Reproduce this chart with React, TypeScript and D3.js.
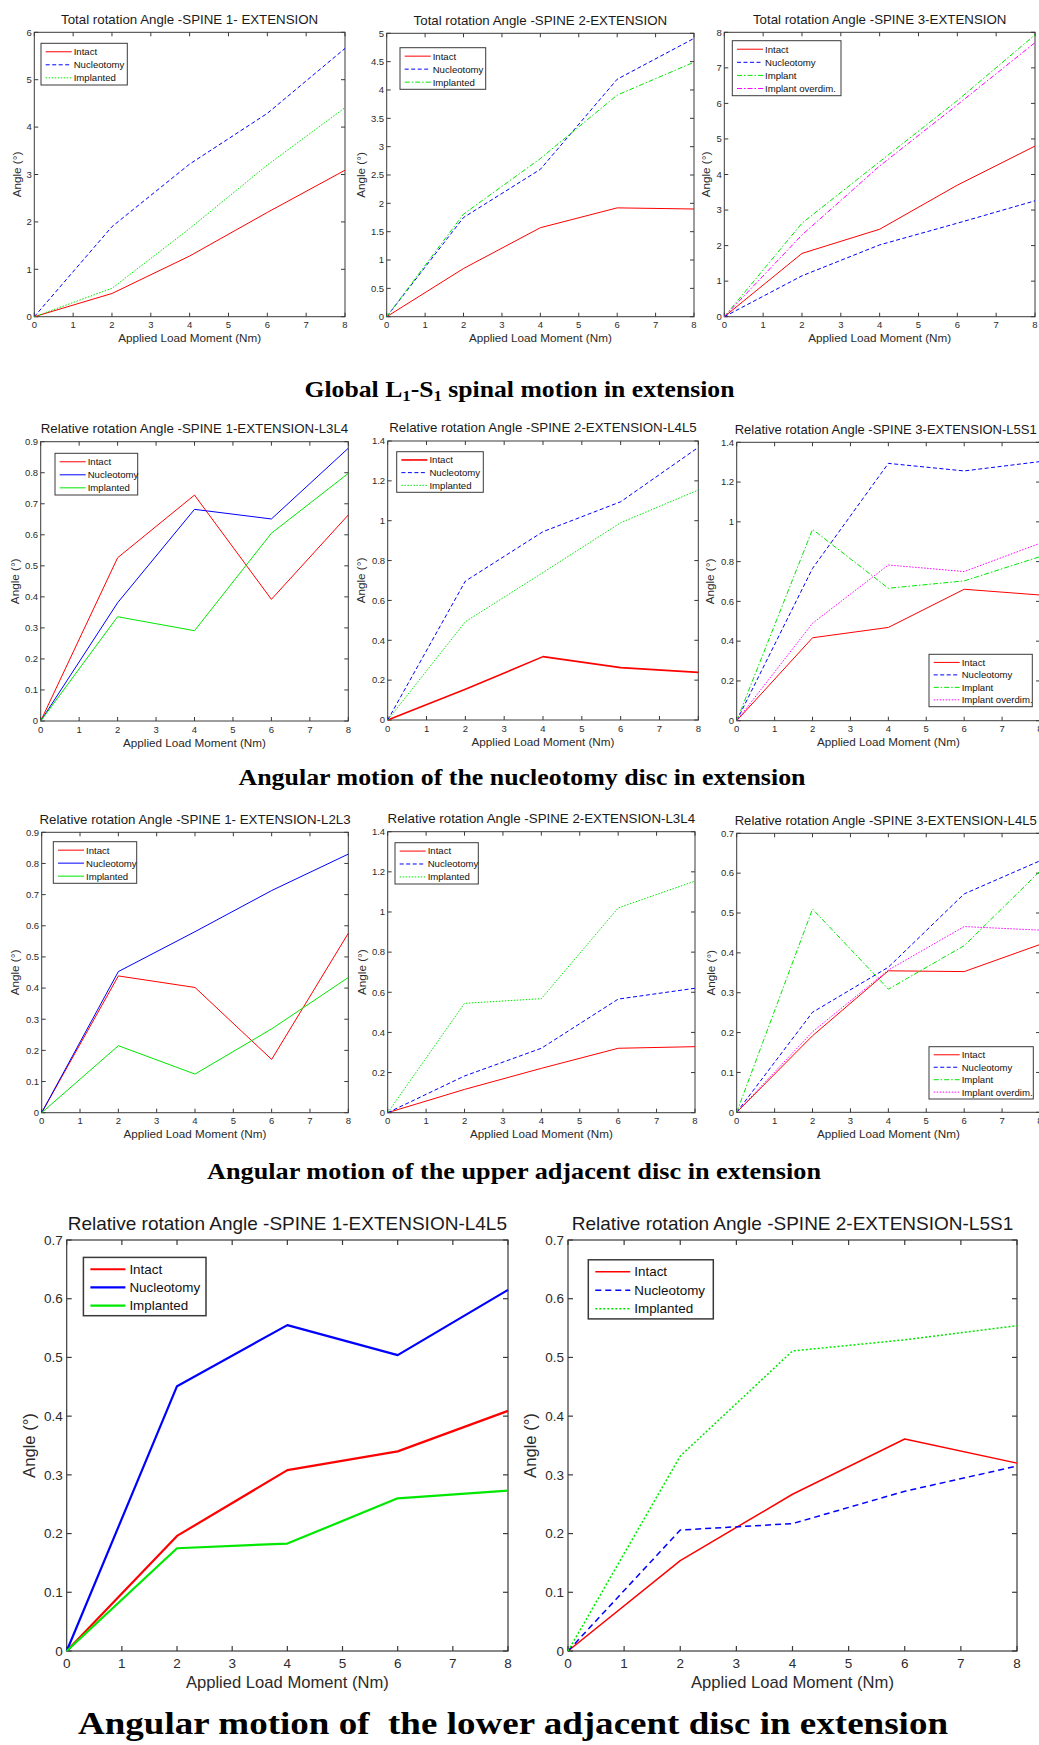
import React from 'react';
import * as d3 from 'd3';

// ---------------- DATA ----------------
const loadMoment = [0, 2, 4, 6, 8];
const xTicks = [0, 1, 2, 3, 4, 5, 6, 7, 8];

const legendThree = ['Intact', 'Nucleotomy', 'Implanted'];
const legendFour = ['Intact', 'Nucleotomy', 'Implant', 'Implant overdim.'];

const yTicks0to6 = [0, 1, 2, 3, 4, 5, 6];
const yTicks0to5 = [0, 0.5, 1, 1.5, 2, 2.5, 3, 3.5, 4, 4.5, 5];
const yTicks0to8 = [0, 1, 2, 3, 4, 5, 6, 7, 8];
const yTicks0to09 = [0, 0.1, 0.2, 0.3, 0.4, 0.5, 0.6, 0.7, 0.8, 0.9];
const yTicks0to14 = [0, 0.2, 0.4, 0.6, 0.8, 1, 1.2, 1.4];
const yTicks0to07 = [0, 0.1, 0.2, 0.3, 0.4, 0.5, 0.6, 0.7];

const panelTitles = [
  'Total rotation Angle -SPINE 1- EXTENSION',
  'Total rotation Angle -SPINE 2-EXTENSION',
  'Total rotation Angle -SPINE 3-EXTENSION',
  'Relative rotation Angle -SPINE 1-EXTENSION-L3L4',
  'Relative rotation Angle -SPINE 2-EXTENSION-L4L5',
  'Relative rotation Angle -SPINE 3-EXTENSION-L5S1',
  'Relative rotation Angle -SPINE 1- EXTENSION-L2L3',
  'Relative rotation Angle -SPINE 2-EXTENSION-L3L4',
  'Relative rotation Angle -SPINE 3-EXTENSION-L4L5',
  'Relative rotation Angle -SPINE 1-EXTENSION-L4L5',
  'Relative rotation Angle -SPINE 2-EXTENSION-L5S1',
];

// Global L1-S1 (total rotation)
const totalS1Intact = [0, 0.49, 1.28, 2.2, 3.09];
const totalS1Nucleotomy = [0, 1.9, 3.22, 4.29, 5.66];
const totalS1Implanted = [0, 0.6, 1.86, 3.2, 4.41];

const totalS2Intact = [0, 0.85, 1.57, 1.92, 1.9];
const totalS2Nucleotomy = [0, 1.75, 2.6, 4.19, 4.91];
const totalS2Implanted = [0, 1.81, 2.79, 3.91, 4.49];

const totalS3Intact = [0, 1.78, 2.46, 3.7, 4.8];
const totalS3Nucleotomy = [0, 1.15, 2.02, 2.63, 3.26];
const totalS3Implant = [0, 2.63, 4.36, 6.08, 7.93];
const totalS3Overdim = [0, 2.3, 4.24, 5.96, 7.71];

// Nucleotomy disc
const nucS1L3L4Intact = [0, 0.526, 0.728, 0.392, 0.664];
const nucS1L3L4Nucleotomy = [0, 0.381, 0.682, 0.651, 0.879];
const nucS1L3L4Implanted = [0, 0.336, 0.291, 0.605, 0.798];

const nucS2L4L5Intact = [0, 0.154, 0.318, 0.263, 0.239];
const nucS2L4L5Nucleotomy = [0, 0.697, 0.945, 1.095, 1.368];
const nucS2L4L5Implanted = [0, 0.493, 0.74, 0.99, 1.154];

const nucS3L5S1Intact = [0, 0.417, 0.469, 0.661, 0.632];
const nucS3L5S1Nucleotomy = [0, 0.766, 1.294, 1.256, 1.303];
const nucS3L5S1Implant = [0, 0.962, 0.666, 0.703, 0.825];
const nucS3L5S1Overdim = [0, 0.49, 0.783, 0.75, 0.892];

// Upper adjacent disc
const upS1L2L3Intact = [0, 0.439, 0.402, 0.171, 0.576];
const upS1L2L3Nucleotomy = [0, 0.453, 0.581, 0.713, 0.83];
const upS1L2L3Implanted = [0, 0.215, 0.124, 0.269, 0.434];

const upS2L3L4Intact = [0, 0.116, 0.221, 0.321, 0.329];
const upS2L3L4Nucleotomy = [0, 0.183, 0.321, 0.566, 0.62];
const upS2L3L4Implanted = [0, 0.545, 0.568, 1.02, 1.154];

const upS3L4L5Intact = [0, 0.192, 0.355, 0.353, 0.421];
const upS3L4L5Nucleotomy = [0, 0.251, 0.364, 0.548, 0.631];
const upS3L4L5Implant = [0, 0.51, 0.309, 0.418, 0.605];
const upS3L4L5Overdim = [0, 0.202, 0.357, 0.466, 0.457];

// Lower adjacent disc
const lowS1L4L5Intact = [0, 0.196, 0.308, 0.34, 0.409];
const lowS1L4L5Nucleotomy = [0, 0.451, 0.555, 0.504, 0.615];
const lowS1L4L5Implanted = [0, 0.175, 0.183, 0.26, 0.273];

const lowS2L5S1Intact = [0, 0.154, 0.267, 0.361, 0.32];
const lowS2L5S1Nucleotomy = [0, 0.206, 0.217, 0.272, 0.315];
const lowS2L5S1Implanted = [0, 0.332, 0.511, 0.53, 0.554];

// ---------------- STYLE ----------------
const RED = '#ff0000';
const BLUE = '#0000ff';
const GREEN = '#00e800';
const MAGENTA = '#ff00ff';
const SOLID = '';
const DASHED = '4,2.5';
const DOTTED = '1.5,1.5';
const DASHDOT = '5,2,1.5,2';

type Series = { values: number[]; color: string; dash: string; width: number };
type PanelCfg = {
  title: string;
  l: number; t: number; r: number; b: number;
  yMax: number; yTicks: number[];
  series: Series[];
  legendLabels: string[];
  lg: [number, number, number, number];
  big?: boolean;
  ylabOff: number;
  titleFit?: number;
};

const S = (values: number[], color: string, dash: string, width = 1): Series => ({ values, color, dash, width });

const panels: PanelCfg[] = [
  {
    title: panelTitles[0], l: 34.3, t: 32.3, r: 345, b: 316.7, yMax: 6, yTicks: yTicks0to6,
    series: [S(totalS1Intact, RED, SOLID), S(totalS1Nucleotomy, BLUE, DASHED), S(totalS1Implanted, GREEN, DOTTED)],
    legendLabels: legendThree, lg: [41, 43.3, 127.3, 85], ylabOff: 17.6,
  },
  {
    title: panelTitles[1], l: 386.7, t: 33.3, r: 694, b: 316.7, yMax: 5, yTicks: yTicks0to5,
    series: [S(totalS2Intact, RED, SOLID), S(totalS2Nucleotomy, BLUE, DASHED), S(totalS2Implanted, GREEN, DASHDOT)],
    legendLabels: legendThree, lg: [400, 47.7, 485.7, 89.3], ylabOff: 26,
  },
  {
    title: panelTitles[2], l: 724.3, t: 32.3, r: 1035, b: 316.7, yMax: 8, yTicks: yTicks0to8,
    series: [S(totalS3Intact, RED, SOLID), S(totalS3Nucleotomy, BLUE, DASHED), S(totalS3Implant, GREEN, DASHDOT), S(totalS3Overdim, MAGENTA, DASHDOT)],
    legendLabels: legendFour, lg: [732.3, 40.7, 841, 95.7], ylabOff: 18,
  },
  {
    title: panelTitles[3], l: 40.7, t: 441.7, r: 348.3, b: 721, yMax: 0.9, yTicks: yTicks0to09,
    series: [S(nucS1L3L4Intact, RED, SOLID), S(nucS1L3L4Nucleotomy, BLUE, SOLID), S(nucS1L3L4Implanted, GREEN, SOLID)],
    legendLabels: legendThree, lg: [55, 453.3, 137.7, 495], ylabOff: 25.7,
  },
  {
    title: panelTitles[4], l: 387.7, t: 441, r: 698.3, b: 720, yMax: 1.4, yTicks: yTicks0to14,
    series: [S(nucS2L4L5Intact, RED, SOLID, 1.6), S(nucS2L4L5Nucleotomy, BLUE, DASHED), S(nucS2L4L5Implanted, GREEN, DOTTED)],
    legendLabels: legendThree, lg: [396.7, 451.7, 483.3, 492.3], ylabOff: 27,
  },
  {
    title: panelTitles[5], l: 736.7, t: 442.3, r: 1040, b: 720.7, yMax: 1.4, yTicks: yTicks0to14,
    series: [S(nucS3L5S1Intact, RED, SOLID), S(nucS3L5S1Nucleotomy, BLUE, DASHED), S(nucS3L5S1Implant, GREEN, DASHDOT), S(nucS3L5S1Overdim, MAGENTA, DOTTED)],
    legendLabels: legendFour, lg: [929, 654.3, 1032.3, 706.7], ylabOff: 26.7, titleFit: 302,
  },
  {
    title: panelTitles[6], l: 41.7, t: 832.3, r: 348.3, b: 1112.7, yMax: 0.9, yTicks: yTicks0to09,
    series: [S(upS1L2L3Intact, RED, SOLID), S(upS1L2L3Nucleotomy, BLUE, SOLID), S(upS1L2L3Implanted, GREEN, SOLID)],
    legendLabels: legendThree, lg: [53.3, 841.7, 136.7, 883.3], ylabOff: 26.7,
  },
  {
    title: panelTitles[7], l: 387.7, t: 831.7, r: 695, b: 1112.7, yMax: 1.4, yTicks: yTicks0to14,
    series: [S(upS2L3L4Intact, RED, SOLID), S(upS2L3L4Nucleotomy, BLUE, DASHED), S(upS2L3L4Implanted, GREEN, DOTTED)],
    legendLabels: legendThree, lg: [395, 842.7, 478.3, 884], ylabOff: 26,
  },
  {
    title: panelTitles[8], l: 736.7, t: 833.3, r: 1040, b: 1112.3, yMax: 0.7, yTicks: yTicks0to07,
    series: [S(upS3L4L5Intact, RED, SOLID), S(upS3L4L5Nucleotomy, BLUE, DASHED), S(upS3L4L5Implant, GREEN, DASHDOT), S(upS3L4L5Overdim, MAGENTA, DOTTED)],
    legendLabels: legendFour, lg: [929, 1046.7, 1033.3, 1099], ylabOff: 26, titleFit: 302,
  },
  {
    title: panelTitles[9], l: 66.7, t: 1240, r: 508, b: 1651, yMax: 0.7, yTicks: yTicks0to07,
    series: [S(lowS1L4L5Intact, RED, SOLID, 2.2), S(lowS1L4L5Nucleotomy, BLUE, SOLID, 2.2), S(lowS1L4L5Implanted, GREEN, SOLID, 2.2)],
    legendLabels: legendThree, lg: [83.4, 1257.4, 206, 1315.7], big: true, ylabOff: 38,
  },
  {
    title: panelTitles[10], l: 568, t: 1240, r: 1017, b: 1651, yMax: 0.7, yTicks: yTicks0to07,
    series: [S(lowS2L5S1Intact, RED, SOLID, 1.5), S(lowS2L5S1Nucleotomy, BLUE, '6,4', 1.5), S(lowS2L5S1Implanted, GREEN, '2,2', 1.5)],
    legendLabels: legendThree, lg: [588.3, 1259.8, 713.3, 1318.9], big: true, ylabOff: 38,
  },
];

const FONT = '"Liberation Sans", Arial, Helvetica, sans-serif';
const SERIF = '"Liberation Serif", "Times New Roman", serif';
const AXIS = '#3a3a3a';
const TEXT = '#2b2b2b';

function Panel({ cfg }: { cfg: PanelCfg }) {
  const big = !!cfg.big;
  const fTick = big ? 13.5 : 9.5;
  const fLab = big ? 16.6 : 11.7;
  const fTitle = big ? 19 : 13.3;
  const fLeg = big ? 13.4 : 9.6;
  const tickLen = big ? 5 : 4;
  const x = d3.scaleLinear().domain([0, 8]).range([cfg.l, cfg.r]);
  const y = d3.scaleLinear().domain([0, cfg.yMax]).range([cfg.b, cfg.t]);
  const line = d3
    .line<number>()
    .x((_, i) => x(loadMoment[i]))
    .y((d) => y(d));
  const [lx1, ly1, lx2, ly2] = cfg.lg;
  const n = cfg.legendLabels.length;
  const sp = (ly2 - ly1) / (n + 0.2);
  const sw = big ? 1.2 : 1;
  const titleX = cfg.titleFit ? cfg.l - 2 + cfg.titleFit / 2 : (cfg.l + cfg.r) / 2;
  return (
    <g>
      <text x={titleX} y={cfg.t - (big ? 17 : 13.3)} dy="0.35em" textAnchor="middle"
        fontFamily={FONT} fontSize={fTitle} fill="#1a1a1a"
        textLength={cfg.titleFit} lengthAdjust={cfg.titleFit ? 'spacingAndGlyphs' : undefined}>{cfg.title}</text>
      <rect x={cfg.l} y={cfg.t} width={cfg.r - cfg.l} height={cfg.b - cfg.t} fill="none" stroke={AXIS} strokeWidth={sw} />
      {xTicks.map((v) => (
        <g key={'x' + v}>
          <line x1={x(v)} x2={x(v)} y1={cfg.b} y2={cfg.b - tickLen} stroke={AXIS} strokeWidth={sw} />
          <line x1={x(v)} x2={x(v)} y1={cfg.t} y2={cfg.t + tickLen} stroke={AXIS} strokeWidth={sw} />
          <text x={x(v)} y={cfg.b + (big ? 12 : 8.3)} dy="0.35em" textAnchor="middle" fontFamily={FONT} fontSize={fTick} fill={TEXT}>{String(v)}</text>
        </g>
      ))}
      {cfg.yTicks.map((v) => (
        <g key={'y' + v}>
          <line x1={cfg.l} x2={cfg.l + tickLen} y1={y(v)} y2={y(v)} stroke={AXIS} strokeWidth={sw} />
          <line x1={cfg.r} x2={cfg.r - tickLen} y1={y(v)} y2={y(v)} stroke={AXIS} strokeWidth={sw} />
          <text x={cfg.l - (big ? 4 : 2.6)} y={y(v)} dy="0.35em" textAnchor="end" fontFamily={FONT} fontSize={fTick} fill={TEXT}>{String(v)}</text>
        </g>
      ))}
      <text x={(cfg.l + cfg.r) / 2} y={cfg.b + (big ? 31 : 21.7)} dy="0.35em" textAnchor="middle" fontFamily={FONT} fontSize={fLab} fill={TEXT}>
        Applied Load Moment (Nm)
      </text>
      <text transform={`translate(${cfg.l - cfg.ylabOff},${(cfg.t + cfg.b) / 2}) rotate(-90)`} dy="0.35em" textAnchor="middle"
        fontFamily={FONT} fontSize={fLab} fill={TEXT}>Angle (°)</text>
      {cfg.series.map((s, i) => (
        <path key={'s' + i} d={line(s.values) || ''} fill="none" stroke={s.color} strokeWidth={s.width}
          strokeDasharray={s.dash || undefined} strokeLinejoin="round" />
      ))}
      <rect x={lx1} y={ly1} width={lx2 - lx1} height={ly2 - ly1} fill="#fff" stroke={AXIS} strokeWidth={big ? 1.5 : 1} />
      {cfg.legendLabels.map((lab, i) => {
        const cy = ly1 + 0.65 * sp + i * sp;
        const s = cfg.series[i];
        const a = big ? 7 : 4.7;
        const bb = big ? 42 : 30.7;
        return (
          <g key={'l' + i}>
            <line x1={lx1 + a} x2={lx1 + bb} y1={cy} y2={cy} stroke={s.color} strokeWidth={s.width}
              strokeDasharray={s.dash || undefined} />
            <text x={lx1 + bb + (big ? 4 : 2)} y={cy} dy="0.35em" fontFamily={FONT} fontSize={fLeg} fill="#111">{lab}</text>
          </g>
        );
      })}
    </g>
  );
}

export default function App() {
  return (
    <svg width={1039} height={1745} viewBox="0 0 1039 1745"
      style={{ position: 'absolute', left: 0, top: 0, background: '#fff' }}>
      <rect x={0} y={0} width={1039} height={1745} fill="#fff" />
      {panels.map((p, i) => <Panel key={i} cfg={p} />)}
      <text x={519.5} y={396.5} textAnchor="middle" fontFamily={SERIF} fontWeight="bold" fontSize={23}
        textLength={430} lengthAdjust="spacingAndGlyphs" fill="#000">
        Global L<tspan fontSize={15} dy={4}>1</tspan><tspan dy={-4}>-S</tspan><tspan fontSize={15} dy={4}>1</tspan><tspan dy={-4}> spinal motion in extension</tspan>
      </text>
      <text x={522} y={785} textAnchor="middle" fontFamily={SERIF} fontWeight="bold" fontSize={23}
        textLength={567} lengthAdjust="spacingAndGlyphs" fill="#000">Angular motion of the nucleotomy disc in extension</text>
      <text x={514} y={1178.6} textAnchor="middle" fontFamily={SERIF} fontWeight="bold" fontSize={23}
        textLength={614} lengthAdjust="spacingAndGlyphs" fill="#000">Angular motion of the upper adjacent disc in extension</text>
      <text x={513} y={1734} textAnchor="middle" fontFamily={SERIF} fontWeight="bold" fontSize={31}
        textLength={870} lengthAdjust="spacingAndGlyphs" fill="#000" style={{ whiteSpace: 'pre' }}>
        {'Angular motion of  the lower adjacent disc in extension'}
      </text>
    </svg>
  );
}
